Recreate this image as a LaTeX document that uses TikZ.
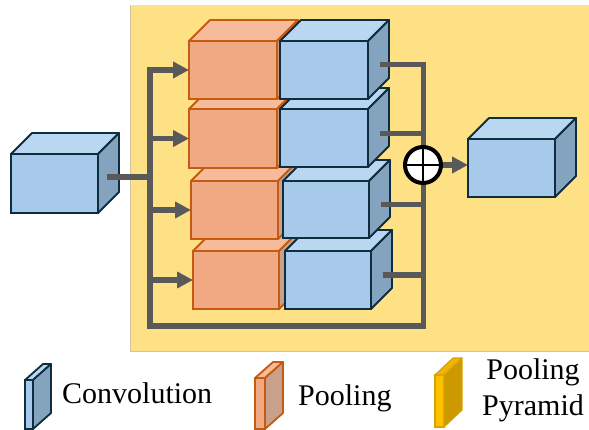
\documentclass[tikz,border=0pt]{standalone}
\usepackage{fontspec}
\setmainfont{Liberation Serif}
\newfontfamily\legfont{Liberation Serif}
\usetikzlibrary{arrows.meta,calc}
\definecolor{bgY}{HTML}{FEE085}
\definecolor{bgEdge}{HTML}{D2C59E}
\definecolor{cvF}{HTML}{A7CAEA}
\definecolor{cvT}{HTML}{BAD7F1}
\definecolor{cvS}{HTML}{84A3BE}
\definecolor{cvL}{HTML}{0F2D40}
\definecolor{plF}{HTML}{F1A983}
\definecolor{plT}{HTML}{F5BB9A}
\definecolor{plS}{HTML}{C9A18B}
\definecolor{plL}{HTML}{C55A11}
\definecolor{ppF}{HTML}{FFC000}
\definecolor{ppT}{HTML}{F2B400}
\definecolor{ppS}{HTML}{CC9A00}
\definecolor{ppL}{HTML}{D9A300}
\definecolor{conn}{HTML}{595959}
\tikzset{
  conv/.style={draw=cvL, fill=cvF, line width=1.8pt, outer sep=0pt, inner sep=0pt},
  convtop/.style={draw=cvL, fill=cvT, line width=1.8pt, line join=round},
  convside/.style={draw=cvL, fill=cvS, line width=1.8pt, line join=round},
  pool/.style={draw=plL, fill=plF, line width=1.8pt, outer sep=0pt, inner sep=0pt},
  pooltop/.style={draw=plL, fill=plT, line width=1.8pt, line join=round},
  poolside/.style={draw=plL, fill=plS, line width=1.8pt, line join=round},
  pyr/.style={draw=ppL, fill=ppF, line width=1.2pt, outer sep=0pt, inner sep=0pt},
  pyrtop/.style={draw=ppL, fill=ppT, line width=1.2pt, line join=round},
  pyrside/.style={draw=ppL, fill=ppS, line width=1.2pt, line join=round},
  wire/.style={draw=conn, line width=5.5pt, line join=miter},
  tip/.style={-{Triangle[length=16pt,width=16pt]}},
  legtext/.style={inner sep=0pt, font=\legfont\fontsize{30}{36}\selectfont},
}
% name, cx, cy, w, h, dx, dy, style
\newcommand\Cube[8]{%
  \node[#8, minimum width=#4pt, minimum height=#5pt] (#1) at (#2,#3) {};
  \draw[#8top] (#1.north west) -- ++(#6,-#7) -- ++(#4,0) -- (#1.north east) -- cycle;
  \draw[#8side] (#1.north east) -- ++(#6,-#7) -- ++(0,#5) -- (#1.south east) -- cycle;
}
\begin{document}
\begin{tikzpicture}[x=1pt,y=-1pt]
\useasboundingbox (0,0) rectangle (589,430);
\fill[bgY] (130,5) rectangle (589,351);
\draw[bgEdge, line width=0.8pt] (589,351) -- (130,351) -- (130,5);

% input cube
\Cube{inp}{54.5}{183.5}{87}{59}{21}{21}{conv}

% rows, from bottom to top
\Cube{o4}{236}{280}{86}{58}{21}{21}{pool}
\Cube{b4}{328}{280}{86}{58}{21}{21}{conv}
\Cube{o3}{234.5}{210}{87}{58}{21}{21}{pool}
\Cube{b3}{326}{209.5}{86}{57}{21}{21}{conv}
\Cube{o2}{233}{138.5}{88}{59}{21}{21}{pool}
\Cube{b2}{324}{138}{88}{58}{21}{21}{conv}
\Cube{o1}{233}{70}{88}{58}{21}{21}{pool}
\Cube{b1}{324}{70}{88}{58}{21}{21}{conv}

% output cube
\Cube{out}{511.5}{168}{87}{58}{21}{21}{conv}

% connectors
\coordinate (inS) at (107,177);
\coordinate (busIn) at (150,177);
\coordinate (lt) at (150,70);
\coordinate (lb) at (150,326);
\coordinate (rb) at (423.5,326);
\coordinate (rt) at (423.5,64.5);
\coordinate (s1) at (380,64.5);
\coordinate (s2) at (380,133.5);
\coordinate (s3) at (381,204.5);
\coordinate (s4) at (383,275);

\draw[wire] (inS) -- (busIn);
\draw[wire, tip] (s1) -- (rt) -- (rb) -- (lb) -- (lt) -- (o1.west);
\draw[wire, tip] (o2.west -| lt) -- (o2.west);
\draw[wire, tip] (o3.west -| lt) -- (o3.west);
\draw[wire, tip] (o4.west -| lt) -- (o4.west);
\draw[wire] (s2) -- (s2 -| rt);
\draw[wire] (s3) -- (s3 -| rt);
\draw[wire] (s4) -- (s4 -| rt);

% sum
\node[circle, draw=black, fill=white, line width=4pt, minimum size=36pt, inner sep=0pt, outer sep=0pt] (sum) at (423,165) {};
\draw[black, line width=2.5pt] (sum.north) -- (sum.south);
\draw[black, line width=2.5pt] (sum.west) -- (sum.east);
\draw[wire, tip] ($(sum.east)+(2,0)$) -- (sum.east -| out.west);

% legend
\Cube{lconv}{29}{404.5}{8}{49}{18}{16}{conv}
\node[legtext, anchor=base west] (tconv) at (62,403) {Convolution};
\Cube{lpool}{260}{403.5}{10}{51}{18}{16}{pool}
\node[legtext, anchor=base west] (tpool) at (298,405) {Pooling};
\Cube{lpyr}{439.5}{401}{9}{52}{18}{17}{pyr}
\node[legtext, anchor=base, align=center] (tpyr) at (533,415) {Pooling\\Pyramid};
\end{tikzpicture}
\end{document}
